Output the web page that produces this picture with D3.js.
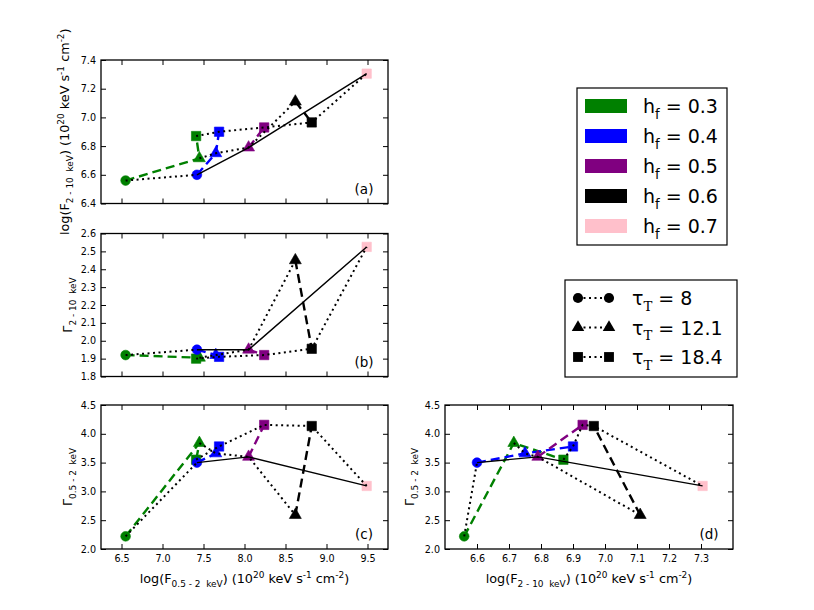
<!DOCTYPE html>
<html><head><meta charset="utf-8">
<script src="https://cdn.jsdelivr.net/npm/d3@7"></script>
<style>
body{margin:0;background:#fff}
svg{display:block}
text{font-family:"DejaVu Sans",sans-serif;white-space:pre}
</style>
</head><body><svg id="c" width="814" height="610"></svg>
<script>
// ---- data ----
const hfValues = [0.3, 0.4, 0.5, 0.6, 0.7];
const tauValues = [8, 12.1, 18.4];
const tauLabels = ["8", "12.1", "18.4"];
// one entry per model point
const pointHf  = [0.3, 0.3, 0.3, 0.4, 0.4, 0.4, 0.5, 0.5, 0.6, 0.6, 0.7];
const pointTau = [8, 12.1, 18.4, 8, 12.1, 18.4, 12.1, 18.4, 12.1, 18.4, 18.4];
const logF052  = [6.55, 7.45, 7.41, 7.42, 7.65, 7.69, 8.05, 8.24, 8.62, 8.82, 9.49];
const logF210  = [6.56, 6.715, 6.87, 6.60, 6.75, 6.90, 6.79, 6.93, 7.11, 6.965, 7.305];
const gamma210 = [1.92, 1.905, 1.90, 1.95, 1.92, 1.91, 1.95, 1.92, 2.45, 1.955, 2.525];
const gamma052 = [2.22, 3.84, 3.55, 3.50, 3.66, 3.78, 3.60, 4.155, 2.59, 4.135, 3.095];
// connections (indices into the point arrays)
const hfLinks  = [[0, 1, 2], [3, 4, 5], [6, 7], [8, 9]];
const tauLinks = [[0, 3], [1, 4, 6, 8], [2, 5, 7, 9, 10]];
const solidLink = [3, 6, 10];
// tick values
const ticksF052 = [6.5, 7.0, 7.5, 8.0, 8.5, 9.0, 9.5];
const ticksF210x = [6.6, 6.7, 6.8, 6.9, 7.0, 7.1, 7.2, 7.3];
const ticksF210y = [6.4, 6.6, 6.8, 7.0, 7.2, 7.4];
const ticksG210 = [1.8, 1.9, 2.0, 2.1, 2.2, 2.3, 2.4, 2.5, 2.6];
const ticksG052 = [2.0, 2.5, 3.0, 3.5, 4.0, 4.5];

// ---- styles ----
const color = d3.scaleOrdinal().domain(hfValues).range(["#008000", "#0000ff", "#800080", "#000000", "#ffc0cb"]);
const shape = d3.scaleOrdinal().domain(tauValues).range([d3.symbolCircle, d3.symbolTriangle, d3.symbolSquare]);
const symSize = d3.scaleOrdinal().domain(tauValues).range([74, 62, 88]);

const svg = d3.select("#c");
svg.append("rect").attr("width", 814).attr("height", 610).attr("fill", "#fff");

function rich(sel, parts, fs) {
  let cur = 0;
  parts.forEach(p => {
    const [t, m, fam] = p;
    const off = m === "sub" ? 0.3 * fs : m === "sup" ? -0.42 * fs : 0;
    const ts = sel.append("tspan").text(t).attr("dy", (off - cur).toFixed(2))
      .attr("font-size", m === "n" ? fs : fs * 0.7);
    if (fam) ts.attr("font-family", fam);
    cur = off;
  });
}

const unitParts = [[") (10", "n"], ["20", "sup"], [" keV s", "n"], ["-1", "sup"], [" cm", "n"], ["-2", "sup"], [")", "n"]];

const panels = [
  {tag: "(a)", x: logF052, y: logF210, xr: [101, 388], yr: [203.5, 60], xd: [6.25, 9.75], yd: [6.4, 7.4],
   xt: ticksF052, yt: ticksF210y, yf: d3.format(".1f"), xlab: null,
   ylab: [["log(F", "n"], ["2 - 10  keV", "sub"], ...unitParts], ylx: 69},
  {tag: "(b)", x: logF052, y: gamma210, xr: [101, 388], yr: [376.5, 233.5], xd: [6.25, 9.75], yd: [1.8, 2.6],
   xt: ticksF052, yt: ticksG210, yf: d3.format(".1f"), xlab: null,
   ylab: [["Γ", "n"], ["2 - 10  keV", "sub"]], ylx: 72},
  {tag: "(c)", x: logF052, y: gamma052, xr: [101, 388], yr: [549, 405], xd: [6.25, 9.75], yd: [2.0, 4.5],
   xt: ticksF052, yt: ticksG052, yf: d3.format(".1f"), xf: d3.format(".1f"),
   xlab: [["log(F", "n"], ["0.5 - 2  keV", "sub"], ...unitParts],
   ylab: [["Γ", "n"], ["0.5 - 2  keV", "sub"]], ylx: 72},
  {tag: "(d)", x: logF210, y: gamma052, xr: [445, 733], yr: [549, 405], xd: [6.5, 7.4], yd: [2.0, 4.5],
   xt: ticksF210x, yt: ticksG052, yf: d3.format(".1f"), xf: d3.format(".1f"),
   xlab: [["log(F", "n"], ["2 - 10  keV", "sub"], ...unitParts],
   ylab: [["Γ", "n"], ["0.5 - 2  keV", "sub"]], ylx: 414}
];

const idx = d3.range(pointHf.length);

panels.forEach(p => {
  const xs = d3.scaleLinear().domain(p.xd).range(p.xr);
  const ys = d3.scaleLinear().domain(p.yd).range(p.yr);
  const g = svg.append("g");
  const [x0, x1] = p.xr, [y1, y0] = p.yr;

  const styleAxis = (a, labelled) => {
    a.select(".domain").remove();
    a.selectAll(".tick line").attr("stroke", "#000").attr("stroke-width", 1);
    a.selectAll("text").attr("font-size", 9.6).attr("fill", "#000")
      .attr("font-family", "DejaVu Sans");
    if (!labelled) a.selectAll("text").remove();
  };
  // axes (inward ticks on all sides)
  g.append("g").attr("transform", `translate(0,${y1})`)
    .call(d3.axisBottom(xs).tickValues(p.xt).tickSize(-5).tickPadding(6).tickFormat(p.xf || (() => "")))
    .call(a => styleAxis(a, !!p.xf));
  g.append("g").attr("transform", `translate(0,${y0})`)
    .call(d3.axisTop(xs).tickValues(p.xt).tickSize(-5).tickFormat(() => ""))
    .call(a => styleAxis(a, false));
  g.append("g").attr("transform", `translate(${x0},0)`)
    .call(d3.axisLeft(ys).tickValues(p.yt).tickSize(-5).tickPadding(5).tickFormat(p.yf))
    .call(a => styleAxis(a, true));
  g.append("g").attr("transform", `translate(${x1},0)`)
    .call(d3.axisRight(ys).tickValues(p.yt).tickSize(-5).tickFormat(() => ""))
    .call(a => styleAxis(a, false));

  const line = d3.line().x(i => xs(p.x[i])).y(i => ys(p.y[i]));

  // dashed lines, one per h_f
  hfLinks.forEach(lk => {
    g.append("path").attr("d", line(lk)).attr("fill", "none")
      .attr("stroke", color(pointHf[lk[0]])).attr("stroke-width", 2.4)
      .attr("stroke-dasharray", "9,5");
  });
  // markers
  g.selectAll("path.m").data(idx).join("path").attr("class", "m")
    .attr("d", i => d3.symbol().type(shape(pointTau[i])).size(symSize(pointTau[i]))())
    .attr("transform", i => `translate(${xs(p.x[i])},${ys(p.y[i])})`)
    .attr("fill", i => color(pointHf[i]))
    .attr("stroke", i => color(pointHf[i])).attr("stroke-width", 0.6);
  // solid line
  g.append("path").attr("d", line(solidLink)).attr("fill", "none")
    .attr("stroke", "#000").attr("stroke-width", 1.4);
  // dotted lines, one per tau
  tauLinks.forEach(lk => {
    g.append("path").attr("d", line(lk)).attr("fill", "none")
      .attr("stroke", "#000").attr("stroke-width", 2)
      .attr("stroke-dasharray", "2,3.5");
  });

  // frame
  g.append("rect").attr("x", x0).attr("y", y0).attr("width", x1 - x0).attr("height", y1 - y0)
    .attr("fill", "none").attr("stroke", "#000").attr("stroke-width", 1.3);

  // panel tag
  g.append("text").attr("x", x1 - 24).attr("y", y1 - 10).attr("text-anchor", "middle")
    .attr("font-size", 13.5).text(p.tag);

  // y label
  const yl = g.append("text").attr("text-anchor", "middle")
    .attr("transform", `translate(${p.ylx},${(y0 + y1) / 2}) rotate(-90)`);
  rich(yl, p.ylab, 12.8);
  // x label
  if (p.xlab) {
    const xl = g.append("text").attr("text-anchor", "middle")
      .attr("x", (x0 + x1) / 2).attr("y", 583);
    rich(xl, p.xlab, 12.8);
  }
});

// ---- legend: h_f ----
const lg1 = svg.append("g");
lg1.append("rect").attr("x", 577).attr("y", 88).attr("width", 150).attr("height", 157)
  .attr("fill", "#fff").attr("stroke", "#000").attr("stroke-width", 1.2);
hfValues.forEach((h, k) => {
  const cy = 106 + k * 30;
  lg1.append("rect").attr("x", 585).attr("y", cy - 7).attr("width", 42).attr("height", 14)
    .attr("fill", color(h));
  const t = lg1.append("text").attr("x", 643).attr("y", cy + 7);
  rich(t, [["h", "n"], ["f", "sub"], [" = " + d3.format(".1f")(h), "n"]], 19);
});

// ---- legend: tau ----
const lg2 = svg.append("g");
lg2.append("rect").attr("x", 565).attr("y", 280).attr("width", 172).attr("height", 97)
  .attr("fill", "#fff").attr("stroke", "#000").attr("stroke-width", 1.2);
tauValues.forEach((tv, k) => {
  const cy = 298 + k * 29.5;
  lg2.append("line").attr("x1", 578).attr("x2", 609).attr("y1", cy).attr("y2", cy)
    .attr("stroke", "#000").attr("stroke-width", 2).attr("stroke-dasharray", "2,3.5");
  [578, 609].forEach(cx => {
    lg2.append("path").attr("d", d3.symbol().type(shape(tv)).size(symSize(tv) * 1.1)())
      .attr("transform", `translate(${cx},${cy})`).attr("fill", "#000");
  });
  const t = lg2.append("text").attr("x", 632).attr("y", cy + 7);
  rich(t, [["τ", "n"], ["T", "sub", "DejaVu Serif"], [" = " + tauLabels[k], "n"]], 19);
});
</script>
</body></html>
